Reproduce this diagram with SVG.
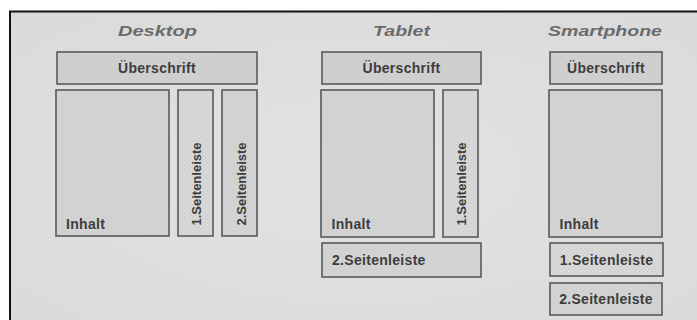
<svg xmlns="http://www.w3.org/2000/svg" width="697" height="320" viewBox="0 0 697 320">
<defs>
<pattern id="hatch" patternUnits="userSpaceOnUse" width="4" height="4">
<rect width="4" height="4" fill="#d9d9d9"/>
<path d="M0,0 L4,4 M-1,3 L1,5 M3,-1 L5,1" stroke="#cdcdcd" stroke-width="1"/>
</pattern>
<radialGradient id="bg" cx="0.5" cy="0.5" r="0.7">
<stop offset="0" stop-color="#e3e3e3"/>
<stop offset="1" stop-color="#dadada"/>
</radialGradient>
</defs>
<style>
.box{fill:#d2d2d2;stroke:#595959;stroke-width:1.6}
.head{fill:#cfcfcf;stroke:#595959;stroke-width:1.6}
.hat{fill:url(#hatch);stroke:#595959;stroke-width:1.6}
.lbl{font-family:"Liberation Sans",Arial,sans-serif;font-weight:bold;font-size:14px;fill:#3d3d3d;letter-spacing:0.3px}
.vlbl{font-family:"Liberation Sans",Arial,sans-serif;font-weight:bold;font-size:13px;fill:#3d3d3d}
.ttl{font-family:"Liberation Sans",Arial,sans-serif;font-weight:bold;font-style:italic;font-size:15.5px;fill:#6b6b6b}
</style>
<rect x="0" y="0" width="697" height="320" fill="#ffffff"/>
<rect x="10" y="11.5" width="700" height="320" fill="url(#bg)" stroke="#111" stroke-width="2"/>

<g id="desktop">
<text class="ttl" x="118" y="35.5" textLength="79" lengthAdjust="spacingAndGlyphs">Desktop</text>
<g id="d-header"><rect class="head" x="57" y="52" width="200" height="32"/><text class="lbl" x="157" y="73" text-anchor="middle">Überschrift</text></g>
<g id="d-content"><rect class="box" x="56" y="90" width="113" height="146"/><text class="lbl" x="66" y="229">Inhalt</text></g>
<g id="d-side1"><rect class="hat" x="178" y="90" width="35" height="146"/><text class="vlbl" transform="translate(201,184) rotate(-90)" text-anchor="middle">1.Seitenleiste</text></g>
<g id="d-side2"><rect class="box" x="222" y="90" width="35" height="146"/><text class="vlbl" transform="translate(246,184) rotate(-90)" text-anchor="middle">2.Seitenleiste</text></g>
</g>

<g id="tablet">
<text class="ttl" x="373" y="35.5" textLength="57" lengthAdjust="spacingAndGlyphs">Tablet</text>
<g id="t-header"><rect class="head" x="322" y="52" width="159" height="32"/><text class="lbl" x="401.5" y="73" text-anchor="middle">Überschrift</text></g>
<g id="t-content"><rect class="box" x="321" y="90" width="113" height="147"/><text class="lbl" x="331.5" y="228.5">Inhalt</text></g>
<g id="t-side1"><rect class="hat" x="443" y="90" width="35" height="147"/><text class="vlbl" transform="translate(466,184) rotate(-90)" text-anchor="middle">1.Seitenleiste</text></g>
<g id="t-side2"><rect class="box" x="322" y="243" width="159" height="34"/><text class="lbl" x="332" y="265">2.Seitenleiste</text></g>
</g>

<g id="smartphone">
<text class="ttl" x="548" y="35.5" textLength="114" lengthAdjust="spacingAndGlyphs">Smartphone</text>
<g id="s-header"><rect class="head" x="550" y="52" width="112" height="32"/><text class="lbl" x="606" y="73" text-anchor="middle">Überschrift</text></g>
<g id="s-content"><rect class="box" x="549" y="90" width="113" height="147"/><text class="lbl" x="559.5" y="228.5">Inhalt</text></g>
<g id="s-side1"><rect class="hat" x="550" y="243" width="113" height="33"/><text class="lbl" x="606.5" y="264.5" text-anchor="middle">1.Seitenleiste</text></g>
<g id="s-side2"><rect class="box" x="550" y="283" width="112" height="32"/><text class="lbl" x="606" y="303.5" text-anchor="middle">2.Seitenleiste</text></g>
</g>
<g id="connectors"/>
</svg>
